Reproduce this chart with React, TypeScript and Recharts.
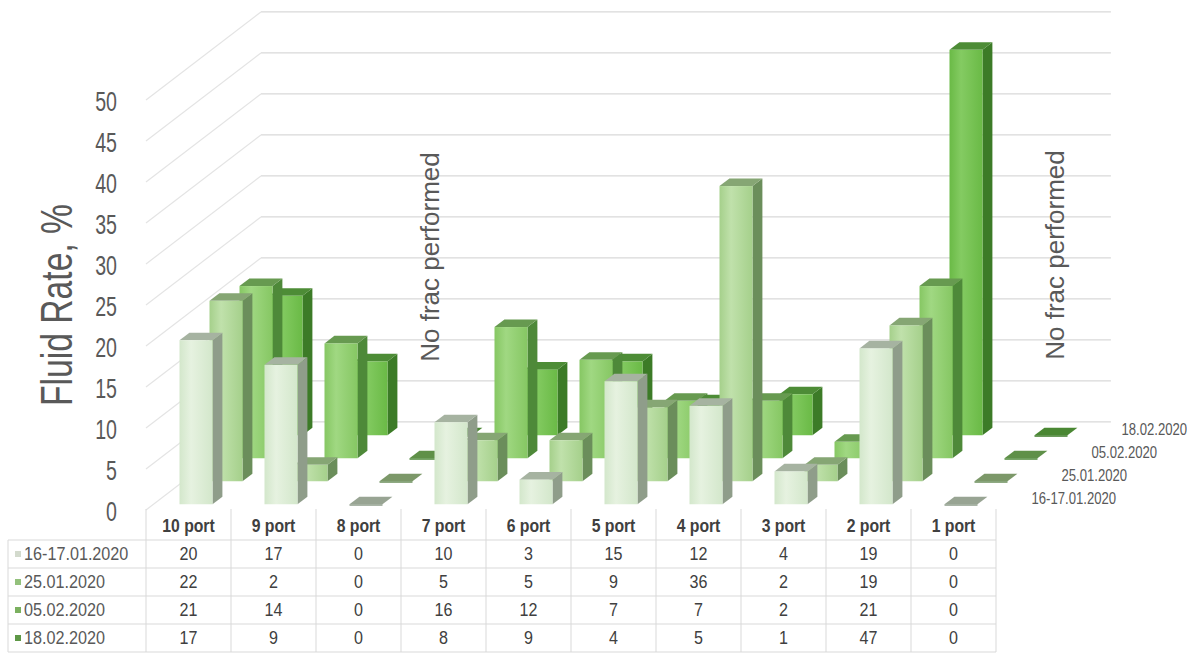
import React from "react";
import { BarChart, Bar, XAxis, YAxis, CartesianGrid, Label } from "recharts";

// ---- data ----
const ports = ["10 port", "9 port", "8 port", "7 port", "6 port", "5 port", "4 port", "3 port", "2 port", "1 port"];
const surveyDates = ["16-17.01.2020", "25.01.2020", "05.02.2020", "18.02.2020"];
const rateJan1617 = [20, 17, 0, 10, 3, 15, 12, 4, 19, 0];
const rateJan25 = [22, 2, 0, 5, 5, 9, 36, 2, 19, 0];
const rateFeb05 = [21, 14, 0, 16, 12, 7, 7, 2, 21, 0];
const rateFeb18 = [17, 9, 0, 8, 9, 4, 5, 1, 47, 0];
const rateTicks = [0, 5, 10, 15, 20, 25, 30, 35, 40, 45, 50];

const series = [rateJan1617, rateJan25, rateFeb05, rateFeb18];
const seriesKeys = ["s0", "s1", "s2", "s3"];
const rows = ports.map((port, i) => {
  const row: Record<string, string | number> = { port };
  series.forEach((s, k) => (row[seriesKeys[k]] = s[i]));
  return row;
});

// ---- layout ----
const W = 1187;
const H = 654;
const PLOT_LEFT = 146;
const PLOT_RIGHT = 996;
const PLOT_TOP = 100;
const PLOT_BOTTOM = 510;
const HALF_BAND = (PLOT_RIGHT - PLOT_LEFT) / ports.length / 2;

// oblique projection of the depth axis (px per series slot)
const DX = 30;
const DY = 23;
const FRONT = 0.25; // depth of the first series' front face
const DEPTH = 0.33; // depth of one column
const WALL = 3.83; // depth of the back wall

const TEXT = "#595959";
const CELL_TEXT = "#404040";
const BORDER = "#d9d9d9";
const FONT = "'Liberation Sans', Arial, sans-serif";

const layerColors = [
  { front: "#d3e7cb", light: "#e6f2e0", side: "#8f9d8a", top: "#a6b3a1", flat: "#98a493", key: "#d3dacd" },
  { front: "#a5d08b", light: "#c0e1ab", side: "#6b8e5b", top: "#86a674", flat: "#7c9869", key: "#93c17c" },
  { front: "#86c763", light: "#a0d882", side: "#4e8939", top: "#679a50", flat: "#5f9048", key: "#7bb05f" },
  { front: "#6aba46", light: "#84cb62", side: "#3c7b27", top: "#4d8c36", flat: "#4a8733", key: "#5e9846" },
];

const TABLE_TOP = 509;
const HEAD_LINE = 540;
const ROW_H = 28;

function CText({ x, y, sx = 1, rotate = 0, anchor = "start", size, weight = 400, fill = TEXT, children }: any) {
  return (
    <g transform={`translate(${x},${y}) rotate(${rotate}) scale(${sx},1)`}>
      <text
        textAnchor={anchor}
        dominantBaseline="central"
        fontSize={size}
        fontWeight={weight}
        fill={fill}
        fontFamily={FONT}
      >
        {children}
      </text>
    </g>
  );
}

// 3D column: front face, right side and top, pushed back by its series slot
function Column(props: any) {
  const { x, y, width, height, layer } = props;
  if (x == null || y == null) return null;
  const c = layerColors[layer];
  const d = layer + FRONT;
  const fx = x + DX * d;
  const fy = y - DY * d;
  const sx = DX * DEPTH;
  const sy = DY * DEPTH;
  const h = Math.max(0, height || 0);
  const top = `${fx},${fy} ${fx + width},${fy} ${fx + width + sx},${fy - sy} ${fx + sx},${fy - sy}`;
  if (h < 1) {
    return (
      <g>
        <polygon points={top} fill={c.flat} />
        <rect x={fx} y={fy} width={width} height={1.5} fill={c.side} />
      </g>
    );
  }
  const side = `${fx + width},${fy} ${fx + width + sx},${fy - sy} ${fx + width + sx},${fy + h - sy} ${fx + width},${fy + h}`;
  return (
    <g>
      <polygon points={side} fill={c.side} />
      <polygon points={top} fill={c.top} />
      <rect x={fx} y={fy} width={width} height={h} fill={`url(#colFront${layer})`} />
    </g>
  );
}

// side-wall diagonal plus back-wall line for each value tick
function WallLine(props: any) {
  const { x1, x2, y1 } = props;
  const bx = DX * WALL;
  const by = DY * WALL;
  return (
    <g>
      <line x1={x1} y1={y1} x2={x1 + bx} y2={y1 - by} stroke="#e4e4e4" strokeWidth={1.2} />
      <line x1={x1 + bx} y1={y1 - by} x2={x2 + bx} y2={y1 - by} stroke={BORDER} strokeWidth={1.2} />
    </g>
  );
}

function RateTick({ x, y, payload }: any) {
  return (
    <CText x={x - 21} y={y + 1} sx={0.7} anchor="end" size={28}>
      {payload.value}
    </CText>
  );
}

// data table column under each port: header + one cell per survey
function TableColumn({ x, payload }: any) {
  const i = ports.indexOf(payload.value);
  const left = x - HALF_BAND;
  return (
    <g>
      <line x1={left} y1={TABLE_TOP} x2={left} y2={HEAD_LINE + ROW_H * 4} stroke={BORDER} />
      {i === ports.length - 1 && (
        <line x1={x + HALF_BAND} y1={TABLE_TOP} x2={x + HALF_BAND} y2={HEAD_LINE + ROW_H * 4} stroke={BORDER} />
      )}
      <CText x={x} y={HEAD_LINE - 14} sx={0.9} anchor="middle" size={17.5} weight={700} fill={CELL_TEXT}>
        {payload.value}
      </CText>
      {series.map((s, r) => (
        <CText key={r} x={x} y={HEAD_LINE + ROW_H * r + 14} sx={0.87} anchor="middle" size={18.5} fill={CELL_TEXT}>
          {s[i]}
        </CText>
      ))}
    </g>
  );
}

function AxisTitle({ viewBox }: any) {
  const cy = viewBox.y + viewBox.height / 2;
  return (
    <g transform={`translate(56,${cy}) rotate(-90)`}>
      <text
        textAnchor="middle"
        dominantBaseline="central"
        fontSize={44}
        fill={TEXT}
        fontFamily={FONT}
        textLength={202}
        lengthAdjust="spacingAndGlyphs"
      >
        Fluid Rate, %
      </text>
    </g>
  );
}

function Overlay() {
  const lines = [0, 1, 2, 3, 4].map((r) => HEAD_LINE + ROW_H * r);
  return (
    <svg width={W} height={H} style={{ position: "absolute", left: 0, top: 0, pointerEvents: "none" }}>
      {lines.map((y) => (
        <line key={y} x1={8} y1={y} x2={PLOT_RIGHT} y2={y} stroke={BORDER} />
      ))}
      <line x1={8} y1={HEAD_LINE} x2={8} y2={HEAD_LINE + ROW_H * 4} stroke={BORDER} />
      {surveyDates.map((d, r) => {
        const cy = HEAD_LINE + ROW_H * r + 14;
        return (
          <g key={d}>
            <rect x={15} y={cy - 3} width={6} height={6} fill={layerColors[r].key} />
            <CText x={24} y={cy} sx={0.875} size={18.5}>
              {d}
            </CText>
          </g>
        );
      })}
      {surveyDates.map((d, r) => (
        <CText
          key={d}
          x={PLOT_RIGHT + DX * (r + FRONT) + 28}
          y={PLOT_BOTTOM - DY * (r + FRONT) - 6}
          sx={0.82}
          size={16}
        >
          {d}
        </CText>
      ))}
      <CText x={430} y={257} rotate={-90} anchor="middle" size={26}>
        No frac performed
      </CText>
      <CText x={1055} y={255} rotate={-90} anchor="middle" size={26}>
        No frac performed
      </CText>
    </svg>
  );
}

export default function App() {
  return (
    <div style={{ position: "absolute", left: 0, top: 0, width: W, height: H, background: "#fff" }}>
      <BarChart
        width={W}
        height={H}
        data={rows}
        margin={{ top: PLOT_TOP, right: W - PLOT_RIGHT, bottom: 0, left: 0 }}
      >
        <defs>
          {layerColors.map((c, k) => (
            <linearGradient key={k} id={`colFront${k}`} x1="0" y1="0" x2="1" y2="0">
              <stop offset="0%" stopColor={c.front} />
              <stop offset="35%" stopColor={c.light} />
              <stop offset="100%" stopColor={c.front} />
            </linearGradient>
          ))}
        </defs>
        <CartesianGrid vertical={false} horizontal={(p: any) => <WallLine key={p.key ?? p.index} {...p} />} />
        <XAxis
          xAxisId={0}
          dataKey="port"
          height={H - PLOT_BOTTOM}
          axisLine={false}
          tickLine={false}
          interval={0}
          tick={<TableColumn />}
        />
        <XAxis xAxisId={1} dataKey="port" hide />
        <XAxis xAxisId={2} dataKey="port" hide />
        <XAxis xAxisId={3} dataKey="port" hide />
        <YAxis
          width={PLOT_LEFT}
          domain={[0, 50]}
          ticks={rateTicks}
          axisLine={false}
          tickLine={false}
          tick={<RateTick />}
        >
          <Label content={<AxisTitle />} />
        </YAxis>
        {[3, 2, 1, 0].map((k) => (
          <Bar
            key={k}
            xAxisId={k}
            dataKey={seriesKeys[k]}
            barSize={33}
            isAnimationActive={false}
            shape={(p: any) => <Column {...p} layer={k} />}
          />
        ))}
      </BarChart>
      <Overlay />
    </div>
  );
}
